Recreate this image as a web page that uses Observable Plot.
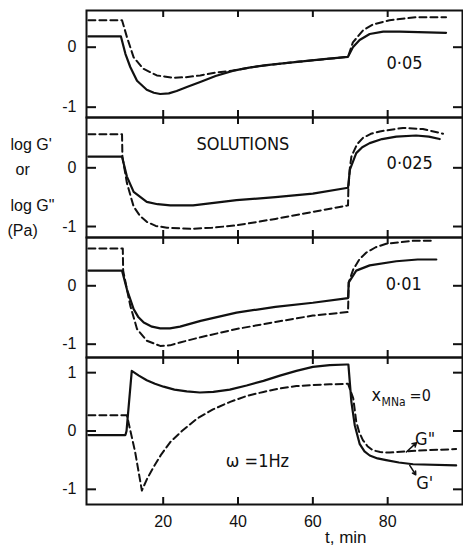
<!DOCTYPE html>
<html><head><meta charset="utf-8">
<script src="https://cdn.jsdelivr.net/npm/d3@7"></script>
<script src="https://cdn.jsdelivr.net/npm/@observablehq/plot@0.6"></script>
<style>
body{margin:0;background:#fff;}
#chart{width:463px;height:552px;position:relative;background:#fff;}
#chart svg{display:block;}
</style></head><body><div id="chart"></div>
<script>
// ---- data (t in min, log G in Pa) ----
const xTicks = [20, 40, 60, 80];
const yTicks3 = [-1, 0];
const yTicks4 = [-1, 0, 1];
const panelNames = ["0·05", "0·025", "0·01"];
const yTitleLines = ["log G'", "or", "log G\"", "(Pa)"];
const xTitle = "t, min";

// x_MNa = 0.05
const gp005 = [[0,0.18],[8.7,0.18],[9.9,-0.11],[11.2,-0.33],[13,-0.56],[15.6,-0.71],[17.5,-0.76],[19.2,-0.78],[21.5,-0.77],[23.6,-0.73],[26.5,-0.66],[29.9,-0.58],[34,-0.48],[38.8,-0.39],[43,-0.34],[47.6,-0.3],[52,-0.27],[56.5,-0.24],[63,-0.2],[69.4,-0.16],[70.7,0],[72.5,0.12],[75.2,0.22],[78.8,0.26],[83.2,0.26],[95.6,0.24]];
const gpp005 = [[0,0.45],[9,0.45],[10.3,0.17],[12.1,-0.17],[14.7,-0.36],[18.3,-0.47],[22.7,-0.51],[26,-0.5],[29.9,-0.47],[34.4,-0.42],[38.8,-0.39],[43,-0.34],[47.6,-0.3],[52,-0.27],[56.5,-0.24],[63,-0.2],[69.4,-0.16],[70.7,0.08],[73.4,0.28],[76.1,0.38],[80.5,0.45],[87.6,0.5],[95.6,0.5]];
// x_MNa = 0.025
const gp0025 = [[0,0.19],[9,0.19],[10.3,-0.15],[12.1,-0.41],[15.6,-0.58],[18.5,-0.62],[21.9,-0.64],[28,-0.64],[33,-0.6],[39.6,-0.55],[50,-0.5],[60,-0.44],[69.4,-0.34],[69.9,-0.03],[71.6,0.25],[73.2,0.35],[75.2,0.42],[78.5,0.49],[82.3,0.53],[87.6,0.55],[91,0.53],[93.9,0.49]];
const gpp0025 = [[0,0.57],[9,0.57],[9.1,0.19],[10.3,-0.26],[12.1,-0.66],[13.8,-0.82],[15.6,-0.92],[18,-0.99],[21,-1.02],[27.2,-1.04],[33,-1.02],[39.6,-0.98],[50,-0.87],[60,-0.75],[69.4,-0.64],[69.5,-0.34],[69.9,0.0],[70.3,0.19],[71.8,0.4],[73.4,0.51],[75.5,0.58],[77.9,0.62],[84.1,0.68],[89.4,0.66],[94.8,0.58]];
// x_MNa = 0.01
const gp001 = [[0,0.26],[9,0.26],[10.3,-0.06],[12.1,-0.4],[13.4,-0.54],[14.8,-0.63],[17,-0.7],[19.2,-0.73],[21.8,-0.73],[24.5,-0.7],[30,-0.6],[39.6,-0.46],[50,-0.36],[60,-0.29],[69.4,-0.21],[69.6,0.06],[71.6,0.26],[75.2,0.35],[82.3,0.42],[88,0.45],[93,0.45]];
const gpp001 = [[0,0.64],[9.2,0.64],[9.3,0.26],[10.3,-0.06],[11.2,-0.34],[13,-0.74],[15.6,-0.94],[19.2,-1.03],[21.8,-1.02],[24.5,-0.97],[30,-0.88],[39.6,-0.74],[50,-0.62],[60,-0.51],[69.4,-0.45],[69.5,-0.21],[69.6,0.06],[70.8,0.28],[72.4,0.45],[74.3,0.57],[76.8,0.66],[79.6,0.72],[86.8,0.77],[92.1,0.77]];
// x_MNa = 0
const gp0 = [[0,-0.07],[9.9,-0.07],[10.2,0.0],[11.6,1.03],[13.5,0.95],[15.6,0.87],[17.8,0.81],[20.1,0.76],[23,0.71],[26.3,0.68],[29.8,0.66],[33.4,0.67],[37.8,0.71],[42.3,0.78],[46.8,0.86],[51.2,0.95],[55.6,1.03],[60,1.1],[64.5,1.13],[69,1.14],[69.5,1.14],[70.3,0.5],[71.2,0.1],[72.5,-0.22],[73.8,-0.35],[75.2,-0.42],[77.3,-0.47],[79.6,-0.5],[83,-0.54],[86.8,-0.57],[98.3,-0.59]];
const gpp0 = [[0,0.27],[10.3,0.27],[12.5,-0.36],[14.3,-1.02],[15.7,-0.82],[17.4,-0.62],[19.5,-0.4],[21.9,-0.19],[25,0.0],[29,0.21],[33.3,0.37],[37.9,0.5],[42.3,0.6],[46.8,0.67],[51.2,0.73],[55.6,0.77],[60,0.79],[64.5,0.8],[69.4,0.81],[70.8,0.56],[71.6,0.16],[72.4,-0.02],[73.4,-0.16],[74.6,-0.26],[76,-0.33],[78,-0.36],[80.5,-0.37],[85,-0.35],[90,-0.33],[98.3,-0.31]];

// annotations (data units)
const notesTop = [
  [{t:84.5, v:-0.26, label:panelNames[0]}],
  [{t:85.9, v:0.08, label:panelNames[1]}, {t:41.3, v:0.41, label:"SOLUTIONS"}],
  [{t:84.3, v:0.03, label:panelNames[2]}]
];
const notesBottom = [{t:45.2, v:-0.52, label:"ω =1Hz"}, {t:90, v:-0.14, label:"G\""}, {t:89.9, v:-0.89, label:"G'"}];
const compLabel = {t:75.7, v:0.61, main:"x", sub:"MNa", tail:"=0"};
const arrows = [{t1:85, v1:-0.36, t2:87.7, v2:-0.2}, {t1:85.9, v1:-0.59, t2:87.5, v2:-0.75}];

// ---- layout ----
const W = 463, ML = 86, MR = 1;
const NARROW = "'Liberation Sans Narrow','Arial Narrow','DejaVu Sans Condensed',sans-serif";
const REG = "'Liberation Sans',Arial,sans-serif";
const rows = a => a.map(([t, v]) => ({t, v}));
const fmt = d => d < 0 ? "-" + Math.abs(d) : String(d);

function makePanel(cfg) {
  const fw = W - ML - MR;
  const fh = cfg.height - cfg.mt - cfg.mb;
  const marks = [
    Plot.line(rows(cfg.gpp), {x:"t", y:"v", stroke:"#111", strokeWidth:2, strokeDasharray:"7,4"}),
    Plot.line(rows(cfg.gp), {x:"t", y:"v", stroke:"#111", strokeWidth:2.2}),
    Plot.frame({stroke:"#111", strokeWidth:2}),
    Plot.tickY(cfg.yticks, {y:d=>d, insetRight: fw - 10, stroke:"#111", strokeWidth:2}),
    Plot.tickY(cfg.yticks, {y:d=>d, insetLeft: fw - 9, stroke:"#111", strokeWidth:2}),
    Plot.tickX(xTicks, {x:d=>d, insetBottom: fh - 7, stroke:"#111", strokeWidth:2}),
    Plot.tickX(xTicks, {x:d=>d, insetTop: fh - 7, stroke:"#111", strokeWidth:2}),
    Plot.axisY({ticks: cfg.yticks, tickSize:0, tickPadding:10, tickFormat: fmt, label:null, fontSize:16, fontFamily: REG, fill:"#111"}),
    Plot.text(cfg.notes || [], {x:"t", y:"v", text:"label", fontSize:18, fontFamily: NARROW, fill:"#111"}),
    ...(cfg.extra || [])
  ];
  return Plot.plot({
    width: W, height: cfg.height,
    marginLeft: ML, marginRight: MR, marginTop: cfg.mt, marginBottom: cfg.mb,
    x: {domain: [-0.5, 100], axis: null},
    y: {domain: cfg.ydom, axis: null},
    style: "overflow: visible; background: transparent; font-family: " + REG + "; font-size: 16px; color:#111;",
    marks
  });
}

const yTitleDx = [-76, -71, -76, -79];
const yTitleDy = [21, 46, 82, 107];
const yTitleMarks = yTitleLines.map((s, i) => Plot.text([s], {frameAnchor:"top-left", textAnchor:"start", dx: yTitleDx[i], dy: yTitleDy[i], fontSize:16, fontFamily: REG, fill:"#111"}));

const p1 = makePanel({gp: gp005, gpp: gpp005, yticks: yTicks3, ydom: [-1.172, 0.612], height: 117, mt: 10, mb: 0, notes: notesTop[0]});
const p2 = makePanel({gp: gp0025, gpp: gpp0025, yticks: yTicks3, ydom: [-1.187, 0.857], height: 120, mt: 0, mb: 0, notes: notesTop[1], extra: yTitleMarks});
const p3 = makePanel({gp: gp001, gpp: gpp001, yticks: yTicks3, ydom: [-1.228, 0.827], height: 120, mt: 0, mb: 0, notes: notesTop[2]});
const p4 = makePanel({gp: gp0, gpp: gpp0, yticks: yTicks4, ydom: [-1.26, 1.26], height: 195, mt: 0, mb: 48, notes: notesBottom,
  extra: [
    Plot.axisX({ticks: xTicks, tickSize:0, tickPadding:11, label:null, fontSize:16, fontFamily: REG, fill:"#111"}),
    Plot.text([xTitle], {x: [68.8], frameAnchor:"bottom", dy: 38, fontSize:17, fontFamily: REG, fill:"#111"}),
    Plot.text([compLabel], {x:"t", y:"v", text:"main", textAnchor:"start", fontSize:18, fontFamily: NARROW, fill:"#111"}),
    Plot.text([compLabel], {x:"t", y:"v", text:"sub", textAnchor:"start", dx: 10, dy: 7, fontSize:12, fontFamily: NARROW, fill:"#111"}),
    Plot.text([compLabel], {x:"t", y:"v", text:"tail", textAnchor:"start", dx: 38, fontSize:16, fontFamily: NARROW, fill:"#111"}),
    Plot.arrow(arrows, {x1:"t1", y1:"v1", x2:"t2", y2:"v2", stroke:"#111", strokeWidth:1.5, headLength:5})
  ]});

const chart = document.getElementById("chart");
[p1, p2, p3, p4].forEach(p => chart.appendChild(p));
</script></body></html>
